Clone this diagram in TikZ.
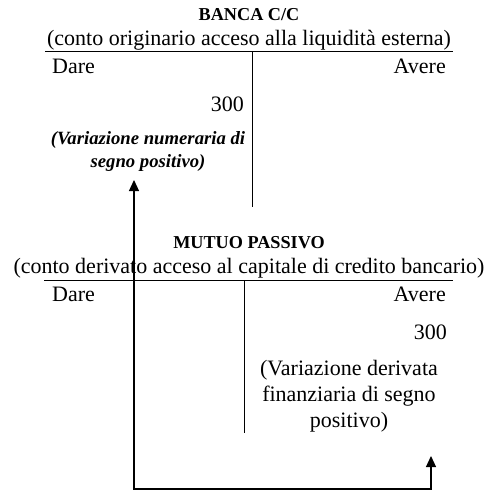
\documentclass[tikz,border=0pt]{standalone}
\usepackage{fontspec}
\setmainfont{Liberation Serif}
\usetikzlibrary{positioning,arrows.meta}

\begin{document}
\begin{tikzpicture}[
        x=1pt, y=-1pt,
        head/.style={font=\fontsize{18.2}{21}\selectfont\bfseries, inner sep=0pt},
        sub/.style={font=\fontsize{22}{25}\selectfont, inner sep=0pt},
        txt/.style={font=\fontsize{22}{26}\selectfont, inner sep=0pt, align=center},
        note/.style={font=\fontsize{18.7}{23}\selectfont\bfseries\itshape, inner sep=0pt, align=center},
        rule/.style={line width=0.8pt},
        arr/.style={line width=1.2pt, {Triangle[width=10pt,length=11pt]}-{Triangle[width=10pt,length=11pt]}},
    ]
    \useasboundingbox (0,0) rectangle (489,491);

    % Conto originario
    \node[head] (t1) at (249,15) {BANCA C/C};
    \node[sub] (s1) at (249,40) {(conto originario acceso alla liquidità esterna)};
    \coordinate (r1a) at (45,51);
    \coordinate (r1b) at (453,51);
    \coordinate (v1a) at (252,51);
    \coordinate (v1b) at (252,207);
    \draw[rule] (r1a) -- (r1b);
    \draw[rule] (v1a) -- (v1b);
    \node[sub, anchor=west] (d1) at (52,66) {Dare};
    \node[sub, anchor=east] (a1) at (446,66) {Avere};
    \node[sub, anchor=east] (n1) at (244,104) {300};
    \node[note] (c1) at (148,151) {(Variazione numeraria di\\segno positivo)};

    % Conto derivato
    \node[head] (t2) at (249,243) {MUTUO PASSIVO};
    \node[sub] (s2) at (249,268) {(conto derivato acceso al capitale di credito bancario)};
    \coordinate (r2a) at (44,280);
    \coordinate (r2b) at (453,280);
    \coordinate (v2a) at (244,280);
    \coordinate (v2b) at (244,433);
    \draw[rule] (r2a) -- (r2b);
    \draw[rule] (v2a) -- (v2b);
    \node[sub, anchor=west] (d2) at (52,294) {Dare};
    \node[sub, anchor=east] (a2) at (446,294) {Avere};
    \node[sub, anchor=east] (n2) at (447,332) {300};
    \node[txt] (c2) at (349,396) {(Variazione derivata\\finanziaria di segno\\positivo)};

    % Collegamento tra le variazioni
    \coordinate (p1) at (134,180);
    \coordinate (p2) at (431,456);
    \draw[arr] (p1) -- (134,489) -| (p2);

\end{tikzpicture}
\end{document}
